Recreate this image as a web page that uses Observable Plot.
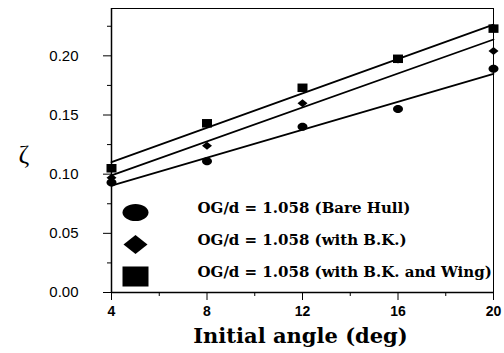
<!DOCTYPE html>
<html><head>
<meta charset="utf-8">
<script src="https://cdn.jsdelivr.net/npm/d3@7"></script>
<script src="https://cdn.jsdelivr.net/npm/@observablehq/plot@0.6"></script>
<style>body{margin:0;background:#fff}</style>
</head><body><div id="chart"></div>
<script>
const angles = [4, 8, 12, 16, 20];
const bareHull = [0.093, 0.111, 0.140, 0.155, 0.189];
const withBK = [0.097, 0.124, 0.160, 0.197, 0.204];
const withBKWing = [0.105, 0.143, 0.173, 0.1975, 0.223];
const seriesNames = ["OG/d = 1.058 (Bare Hull)", "OG/d = 1.058 (with B.K.)", "OG/d = 1.058 (with B.K. and Wing)"];
const xTicks = [4, 8, 12, 16, 20];
const xMinor = [6, 10, 14, 18];
const yTicks = [0, 0.05, 0.10, 0.15, 0.20];
const yMinor = [0.025, 0.075, 0.125, 0.175, 0.225];
const xLabel = "Initial angle (deg)";
const yLabel = "ζ";

// custom symbols
const K = 0.5523;
function ellipseSym(asp) {
  return {draw(ctx, size) {
    const rx = Math.sqrt(size / Math.PI), ry = rx * asp;
    ctx.moveTo(rx, 0);
    ctx.bezierCurveTo(rx, ry*K, rx*K, ry, 0, ry);
    ctx.bezierCurveTo(-rx*K, ry, -rx, ry*K, -rx, 0);
    ctx.bezierCurveTo(-rx, -ry*K, -rx*K, -ry, 0, -ry);
    ctx.bezierCurveTo(rx*K, -ry, rx, -ry*K, rx, 0);
    ctx.closePath();
  }};
}
function diamondSym(asp) {
  return {draw(ctx, size) {
    const rx = Math.sqrt(size / Math.PI), ry = rx * asp;
    ctx.moveTo(-rx, 0); ctx.lineTo(0, -ry); ctx.lineTo(rx, 0); ctx.lineTo(0, ry); ctx.closePath();
  }};
}
function rectSym(asp) {
  return {draw(ctx, size) {
    const rx = Math.sqrt(size / Math.PI), ry = rx * asp;
    ctx.rect(-rx, -ry, 2*rx, 2*ry);
  }};
}
const dataSym = [ellipseSym(0.8), diamondSym(0.8), rectSym(0.85)];
const legSym = [ellipseSym(0.66), diamondSym(0.8), rectSym(0.77)];
const dataR = [5, 5, 5];
const legR = [13, 12, 13];

const seriesVals = [bareHull, withBK, withBKWing];
const table = seriesVals.flatMap((vals, s) => angles.map((a, i) => ({s, x: a, y: vals[i]})));

const serif = "'DejaVu Serif', 'Liberation Serif', serif";
const marks = [
  Plot.frame({stroke: "black", strokeWidth: 1}),
  Plot.ruleX([4], {stroke: "black", strokeWidth: 1.5}),
  Plot.ruleY([0], {stroke: "black", strokeWidth: 1.5}),
  Plot.axisY({ticks: yTicks, tickSize: 8, tickPadding: 25, tickFormat: d3.format(".2f"),
    fontSize: 15, fontFamily: "'Liberation Sans', Arial, sans-serif", label: null, tickWidth: 1}),
  Plot.axisY({ticks: yMinor, tickSize: 4, tickFormat: null, label: null, text: null}),
  Plot.axisX({ticks: xTicks, tickSize: 8, tickPadding: 6, tickFormat: d3.format("d"),
    fontSize: 14, fontWeight: "bold", fontFamily: "'Liberation Sans Narrow', 'Arial Narrow', 'Liberation Sans', sans-serif", label: null}),
  Plot.axisX({ticks: xMinor, tickSize: 4, tickFormat: null, label: null, text: null}),
];
seriesVals.forEach((vals, s) => {
  const d = table.filter(r => r.s === s);
  marks.push(Plot.linearRegressionY(d, {x: "x", y: "y", stroke: "black", strokeWidth: 1.8, ci: 0}));
  marks.push(Plot.dot(d, {x: "x", y: "y", symbol: dataSym[s], r: dataR[s], fill: "black", stroke: "none"}));
});
const legDy = [-80, -48, -16];
seriesNames.forEach((name, s) => {
  marks.push(Plot.dot([name], {frameAnchor: "bottom-left", dx: 24, dy: legDy[s], symbol: legSym[s], r: legR[s], fill: "black", stroke: "none"}));
  marks.push(Plot.text([name], {frameAnchor: "bottom-left", dx: 86, dy: legDy[s], text: d => d, textAnchor: "start",
    fontSize: 15, fontWeight: "bold", fontFamily: serif, fill: "black"}));
});
marks.push(Plot.text([xLabel], {frameAnchor: "bottom", dy: 50, dx: -2, text: d => d, fontSize: 21, fontWeight: "bold", fontFamily: serif, fill: "black"}));
marks.push(Plot.text([yLabel], {frameAnchor: "left", dx: -93, dy: 4, text: d => d, fontSize: 26, fontFamily: "'Liberation Serif', serif", fill: "black"}));

const chart = Plot.plot({
  width: 504, height: 353,
  marginLeft: 111, marginRight: 11, marginTop: 8, marginBottom: 61,
  x: {domain: [4, 20]},
  y: {domain: [0, 0.24]},
  style: {background: "white", color: "black", overflow: "visible"},
  marks
});
document.getElementById("chart").appendChild(chart);
</script>
</body></html>
